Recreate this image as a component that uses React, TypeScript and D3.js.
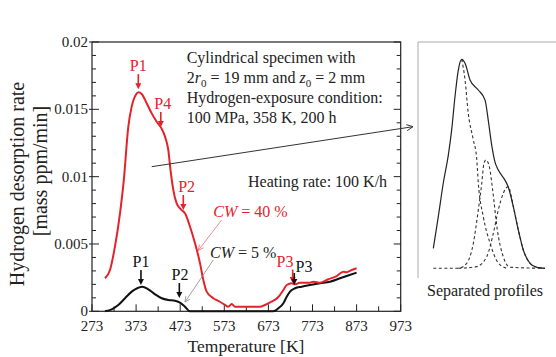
import React from 'react';
import * as d3 from 'd3';

// ---- data ----
const redT = [302.5, 313.8, 325, 336.5, 345, 355.3, 363, 372.8, 378, 385.7, 397, 408.4, 419.7, 429.5, 438.6, 446, 451, 457.4, 465, 476.4, 483.9, 495.3, 506.6, 518, 525.4, 533, 548, 563, 574.6, 582, 589.8, 597.3, 612.5, 654, 665, 680, 695, 707, 714.5, 726, 733, 744.5, 767, 775, 790, 809, 828, 843, 850, 862, 873];
const redV = [0.00245, 0.00307, 0.0048, 0.00728, 0.0097, 0.0137, 0.0152, 0.0161, 0.01626, 0.01614, 0.01545, 0.0147, 0.01408, 0.01364, 0.01297, 0.01198, 0.0105, 0.009, 0.00802, 0.00752, 0.00728, 0.00628, 0.00505, 0.00356, 0.00232, 0.00146, 0.00097, 0.00071, 0.00047, 0.00034, 0.00054, 0.00034, 0.00034, 0.00034, 0.00047, 0.00071, 0.00104, 0.00158, 0.00195, 0.00208, 0.002, 0.00212, 0.00212, 0.0022, 0.00212, 0.00238, 0.00262, 0.00294, 0.0029, 0.00307, 0.0032];
const blackT = [302.5, 317.7, 332.6, 347.8, 363, 378, 387, 400.7, 415.9, 431, 446, 461, 472.5, 483.8, 495, 684, 695.5, 707, 714.5, 722, 733.3, 748.5, 767.3, 790, 812.7, 835.3, 850.5, 873];
const blackV = [0, 0.00015, 0.00047, 0.00097, 0.00146, 0.00175, 0.00183, 0.00163, 0.00126, 0.00097, 0.00084, 0.00079, 0.00064, 0.00034, 0, 0, 0.00022, 0.0006, 0.00108, 0.00146, 0.00171, 0.00183, 0.00195, 0.00208, 0.0022, 0.00245, 0.00262, 0.00287];

const xTickLabels = [273, 373, 473, 573, 673, 773, 873, 973];
const xMinorTicks = [323, 423, 523, 623, 723, 823, 923];
const yTickValues = [0, 0.005, 0.01, 0.015, 0.02];
const yTickLabels = ['0', '0.005', '0.01', '0.015', '0.02'];

// peak annotations: label, T, tip value, colour, label dx
const peakLabels = ['P1', 'P4', 'P2', 'P3', 'P1', 'P2', 'P3'];
const peakT = [378, 429, 480, 728, 384, 471, 731.7];
const peakV = [0.0165, 0.01369, 0.00752, 0.0021, 0.00195, 0.00099, 0.00195];
const peakColor = ['red', 'red', 'red', 'red', 'black', 'black', 'black'];
const peakDx = [0, 2, 3.4, -7.7, 0, 0.7, 9.7];
const peakDy = [0, 0, 0, 1.5, 0, 0, 3];

// inset (separated profiles) in relative units 0..100
const insetTotalX = [11.1, 14.7, 18.3, 22.0, 24.4, 26.8, 29.2, 31.7, 34.1, 37.7, 43.7, 48.6, 50.9, 53.4, 55.8, 58.2, 63.0, 65.4, 69.1, 72.7, 76.3, 81.2, 86.0, 92.0];
const insetTotalY = [9.5, 24.6, 40.5, 54, 65.9, 81.7, 94.4, 99.5, 97.6, 89.7, 84.9, 80.1, 70.6, 58.7, 50.6, 46.8, 42.0, 38.7, 29.3, 18.2, 8.7, 2.4, 0.5, 0];
const insetC1X = [31.7, 34.1, 36.4, 40.1, 42.5, 43.7, 47.3, 52.2, 58.2, 64.3];
const insetC1Y = [99.5, 89.7, 74, 61.1, 52.5, 40.6, 24.6, 12, 2.5, 0];
const insetC2X = [11.1, 29.2, 35.3, 40.1, 43.7, 46.2, 47.8, 49.3, 51.7, 54.1, 57.5, 61.8, 66.7, 92];
const insetC2Y = [0, 0, 2.4, 11.9, 27.8, 40.5, 50, 51.6, 48.4, 37.3, 18.2, 5.5, 0.5, 0];
const insetC3X = [29.2, 42.5, 49.8, 54.6, 58.2, 61.8, 65.4, 69.1, 72.7, 76.3, 81.2, 86.0, 92.0];
const insetC3Y = [0, 0.8, 5.5, 16.7, 27.8, 35.7, 38.9, 29.3, 18.2, 8.7, 2.4, 0.5, 0];

const RED = '#e3232a';
const FONT = '"Liberation Serif", "Times New Roman", serif';

const x = d3.scaleLinear().domain([273, 973]).range([92, 400.7]);
const y = d3.scaleLinear().domain([0, 0.02]).range([311.3, 42]);
const ix = d3.scaleLinear().domain([0, 100]).range([418, 556]);
const iy = d3.scaleLinear().domain([0, 100]).range([268.3, 58.3]);

const line = d3.line<[number, number]>().x(d => x(d[0])).y(d => y(d[1])).curve(d3.curveMonotoneX);
const iline = d3.line<[number, number]>().x(d => ix(d[0])).y(d => iy(d[1])).curve(d3.curveMonotoneX);
const zip = (a: number[], b: number[]) => a.map((v, i) => [v, b[i]] as [number, number]);

function OpenArrow({ x1, y1, x2, y2, color, width = 1, head = 7 }: any) {
  const a = Math.atan2(y2 - y1, x2 - x1);
  const s = 0.45;
  const p1 = [x2 - head * Math.cos(a - s), y2 - head * Math.sin(a - s)];
  const p2 = [x2 - head * Math.cos(a + s), y2 - head * Math.sin(a + s)];
  return (
    <g stroke={color} strokeWidth={width} fill="none">
      <line x1={x1} y1={y1} x2={x2} y2={y2} />
      <path d={`M${p1[0]},${p1[1]}L${x2},${y2}L${p2[0]},${p2[1]}`} />
    </g>
  );
}

export default function App() {
  const minorY = d3.range(0, 21).map(i => i * 0.001);
  return (
    <svg width={556} height={357} style={{ position: 'absolute', left: 0, top: 0, background: '#fff' }} fontFamily={FONT}>
      {/* frame */}
      <rect x={92} y={42} width={400.7 - 92} height={311.3 - 42} fill="none" stroke="#222" strokeWidth={1.2} />
      {/* y ticks */}
      {minorY.map((v, i) => {
        const major = i % 5 === 0;
        const L = major ? 7 : 4;
        return (
          <g key={'yt' + i} stroke="#222" strokeWidth={1}>
            <line x1={major ? 89 : 92} x2={92 + L} y1={y(v)} y2={y(v)} />
            <line x1={400.7} x2={400.7 - L} y1={y(v)} y2={y(v)} />
          </g>
        );
      })}
      {yTickValues.map((v, i) => (
        <text key={'yl' + i} x={88} y={y(v) + 5} textAnchor="end" fontSize={15} fill="#222">{yTickLabels[i]}</text>
      ))}
      {/* x ticks */}
      {xTickLabels.map(t => (
        <g key={'xt' + t}>
          <line x1={x(t)} x2={x(t)} y1={311.3} y2={311.3 - 7} stroke="#222" />
          <text x={x(t)} y={331} textAnchor="middle" fontSize={15} fill="#222">{t}</text>
        </g>
      ))}
      {xMinorTicks.map(t => (
        <line key={'xm' + t} x1={x(t)} x2={x(t)} y1={311.3} y2={311.3 - 5} stroke="#222" />
      ))}
      {/* axis titles */}
      <text transform="translate(23.5,184) rotate(-90)" textAnchor="middle" fontSize={20} fill="#222">Hydrogen desorption rate</text>
      <text transform="translate(47,171) rotate(-90)" textAnchor="middle" fontSize={20} fill="#222">[mass ppm/min]</text>
      <text x={246} y={351.5} textAnchor="middle" fontSize={17.5} fill="#222">Temperature [K]</text>

      {/* curves */}
      <path d={line(zip(blackT, blackV)) || ''} fill="none" stroke="#111" strokeWidth={2} />
      <path d={line(zip(redT, redV)) || ''} fill="none" stroke={RED} strokeWidth={2} />

      {/* peak annotations */}
      {peakLabels.map((lab, i) => {
        const col = peakColor[i] === 'red' ? RED : '#111';
        const px = x(peakT[i]);
        const tip = y(peakV[i]);
        const tail = tip - 15 + peakDy[i];
        return (
          <g key={'pk' + i}>
            <line x1={px} x2={px} y1={tail} y2={tip - 5} stroke={col} strokeWidth={1.6} />
            <path d={`M${px - 3},${tip - 6}L${px + 3},${tip - 6}L${px},${tip}Z`} fill={col} />
            <text x={px + peakDx[i]} y={tail - 3 + (i === 6 ? 2 : 0)} textAnchor="middle" fontSize={16} fill={col}>{lab}</text>
          </g>
        );
      })}

      {/* texts */}
      <g fontSize={16} fill="#222">
        <text x={186.7} y={62.7}>Cylindrical specimen with</text>
        <text x={186.7} y={83.3}>2<tspan fontStyle="italic">r</tspan><tspan dy={4} fontSize={11}>0</tspan><tspan dy={-4}> = 19 mm and </tspan><tspan fontStyle="italic">z</tspan><tspan dy={4} fontSize={11}>0</tspan><tspan dy={-4}> = 2 mm</tspan></text>
        <text x={186.7} y={103.3}>Hydrogen-exposure condition:</text>
        <text x={186.7} y={122.7}>100 MPa, 358 K, 200 h</text>
        <text x={248} y={186.5}>Heating rate: 100 K/h</text>
        <text x={213.3} y={216.7} fill={RED}><tspan fontStyle="italic">CW</tspan> = 40 %</text>
        <text x={210} y={258.3}><tspan fontStyle="italic">CW</tspan> = 5 %</text>
      </g>

      {/* pointer lines */}
      <OpenArrow x1={x(567)} y1={y(0.00678)} x2={x(514)} y2={y(0.00452)} color="#ee6b6e" width={0.8} head={6} />
      <OpenArrow x1={x(548)} y1={y(0.00381)} x2={x(483.9)} y2={y(0.00069)} color="#888" width={0.8} head={6} />
      <OpenArrow x1={x(408.4)} y1={y(0.01074)} x2={x(1000.8)} y2={y(0.01371)} color="#333" width={1} head={7} />

      {/* inset */}
      <g stroke="#aaa" strokeWidth={1}>
        <line x1={418} x2={418} y1={42} y2={278} />
        <line x1={418} x2={556} y1={42} y2={42} />
      </g>
      <path d={iline(zip(insetC1X, insetC1Y)) || ''} fill="none" stroke="#333" strokeWidth={1.1} strokeDasharray="3,2.5" />
      <path d={iline(zip(insetC2X, insetC2Y)) || ''} fill="none" stroke="#333" strokeWidth={1.1} strokeDasharray="3,2.5" />
      <path d={iline(zip(insetC3X, insetC3Y)) || ''} fill="none" stroke="#333" strokeWidth={1.1} strokeDasharray="3,2.5" />
      <path d={iline(zip(insetTotalX, insetTotalY)) || ''} fill="none" stroke="#222" strokeWidth={1.2} />
      <text x={485} y={295.5} textAnchor="middle" fontSize={16} fill="#222">Separated profiles</text>
    </svg>
  );
}
